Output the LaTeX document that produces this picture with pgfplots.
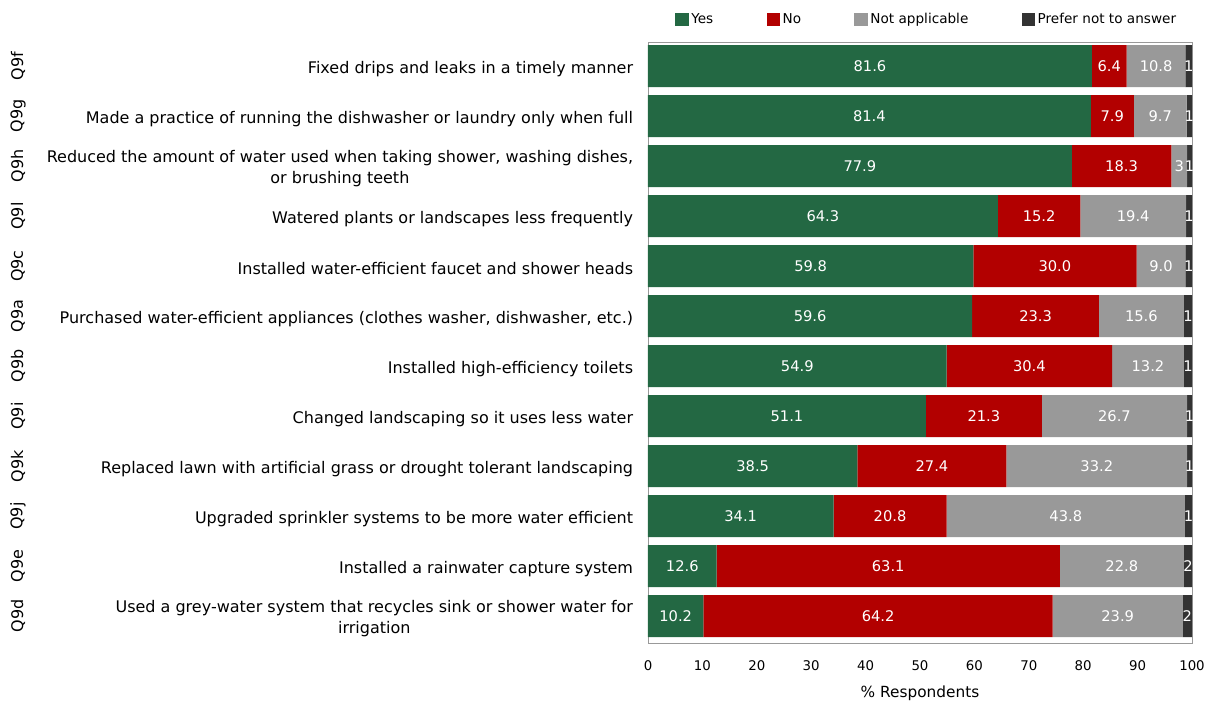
\documentclass[border=0pt]{standalone}
\usepackage{pgfplots}
\pgfplotsset{compat=1.18}
\usepackage{pgfplotstable}
\usepackage{fontspec}
\setmainfont{DejaVu Sans}
\definecolor{cyes}{RGB}{35,104,67}
\definecolor{cno}{RGB}{178,0,0}
\definecolor{cna}{RGB}{153,153,153}
\definecolor{cpr}{RGB}{51,51,51}
\pgfplotstableread{
y yes yl no nl na nal pr prl
0 81.6 81.6 6.4 6.4 10.8 10.8 1.2 1
1 81.4 81.4 7.9 7.9 9.7 9.7 1.0 1
2 77.9 77.9 18.3 18.3 2.9 3 0.9 1
3 64.3 64.3 15.2 15.2 19.4 19.4 1.1 1
4 59.8 59.8 30.0 30.0 9.0 9.0 1.2 1
5 59.6 59.6 23.3 23.3 15.6 15.6 1.5 1
6 54.9 54.9 30.4 30.4 13.2 13.2 1.5 1
7 51.1 51.1 21.3 21.3 26.7 26.7 0.9 1
8 38.5 38.5 27.4 27.4 33.2 33.2 0.9 1
9 34.1 34.1 20.8 20.8 43.8 43.8 1.3 1
10 12.6 12.6 63.1 63.1 22.8 22.8 1.5 2
11 10.2 10.2 64.2 64.2 23.9 23.9 1.7 2
}\data
\begin{document}
\begin{tikzpicture}[font=\fontsize{12pt}{15.5pt}\selectfont]
\path[use as bounding box] (-486pt,-45.75pt) rectangle (426pt,482.25pt);
\begin{axis}[
  at={(0,0)}, anchor=south west,
  scale only axis, width=408pt, height=450.75pt,
  xbar stacked, bar width=0.84,
  y dir=reverse,
  ymin=-0.48, ymax=11.54,
  xmin=0, xmax=100,
  xtick={0,10,...,100},
  ytick={0,...,11},
  yticklabels={
    {Fixed drips and leaks in a timely manner},
    {Made a practice of running the dishwasher or laundry only when full},
    {Reduced the amount of water used when taking shower, washing dishes,\\or brushing teeth},
    {Watered plants or landscapes less frequently},
    {Installed water-efficient faucet and shower heads},
    {Purchased water-efficient appliances (clothes washer, dishwasher, etc.)},
    {Installed high-efficiency toilets},
    {Changed landscaping so it uses less water},
    {Replaced lawn with artificial grass or drought tolerant landscaping},
    {Upgraded sprinkler systems to be more water efficient},
    {Installed a rainwater capture system},
    {Used a grey-water system that recycles sink or shower water for\\irrigation}},
  yticklabel style={align=center, inner xsep=0pt, xshift=-11pt, yshift=-2pt},
  /pgf/number format/assume math mode=true,
  xticklabel style={font=\fontsize{10pt}{12pt}\selectfont, yshift=-10pt},
  major tick length=0pt,
  axis line style={draw=gray!80},
  xlabel={\% Respondents},
  xlabel style={font=\fontsize{11.5pt}{13pt}\selectfont, yshift=-4pt},
  clip=false,
  legend columns=4,
  legend style={draw=none, at={(0.513,1)}, anchor=south, yshift=10pt,
    font=\fontsize{10.2pt}{12pt}\selectfont,
    /tikz/every even column/.append style={column sep=38pt},
    inner sep=0pt},
  legend image code/.code={\fill[#1] (0pt,-5pt) rectangle (10pt,5pt);},
  nodes near coords,
  point meta=explicit symbolic,
  every node near coord/.append style={color=white, font=\fontsize{11pt}{12pt}\selectfont, anchor=center},
]
\addplot[fill=cyes, draw=none] table[x=yes, y=y, meta=yl] {\data};
\addplot[fill=cno, draw=none] table[x=no, y=y, meta=nl] {\data};
\addplot[fill=cna, draw=none] table[x=na, y=y, meta=nal] {\data};
\addplot[fill=cpr, draw=none] table[x=pr, y=y, meta=prl] {\data};
\legend{Yes, No, Not applicable, Prefer not to answer}
\node[rotate=90] at ([xshift=-472.5pt]axis cs:0,0) {Q9f};
\node[rotate=90] at ([xshift=-472.5pt]axis cs:0,1) {Q9g};
\node[rotate=90] at ([xshift=-472.5pt]axis cs:0,2) {Q9h};
\node[rotate=90] at ([xshift=-472.5pt]axis cs:0,3) {Q9l};
\node[rotate=90] at ([xshift=-472.5pt]axis cs:0,4) {Q9c};
\node[rotate=90] at ([xshift=-472.5pt]axis cs:0,5) {Q9a};
\node[rotate=90] at ([xshift=-472.5pt]axis cs:0,6) {Q9b};
\node[rotate=90] at ([xshift=-472.5pt]axis cs:0,7) {Q9i};
\node[rotate=90] at ([xshift=-472.5pt]axis cs:0,8) {Q9k};
\node[rotate=90] at ([xshift=-472.5pt]axis cs:0,9) {Q9j};
\node[rotate=90] at ([xshift=-472.5pt]axis cs:0,10) {Q9e};
\node[rotate=90] at ([xshift=-472.5pt]axis cs:0,11) {Q9d};
\end{axis}
\end{tikzpicture}
\end{document}
